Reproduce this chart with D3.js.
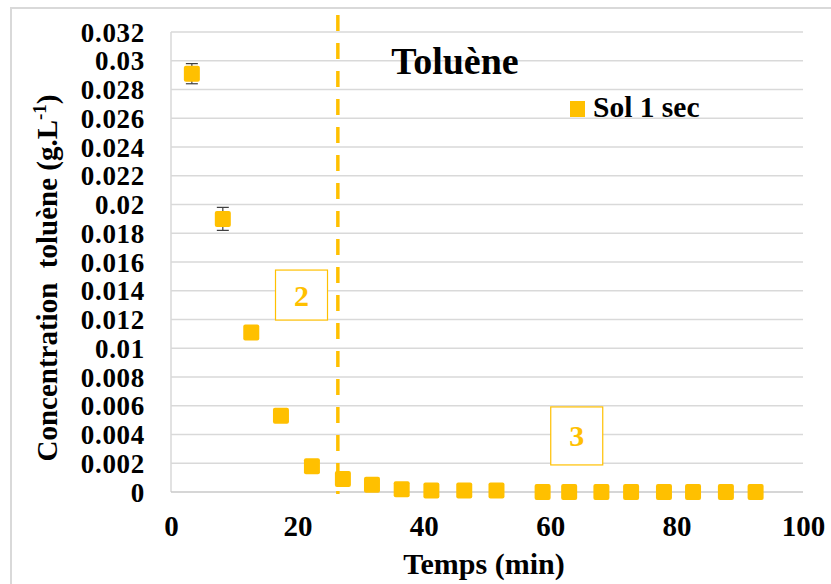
<!DOCTYPE html>
<html>
<head>
<meta charset="utf-8">
<script src="https://cdn.jsdelivr.net/npm/d3@7"></script>
<style>
    html, body { margin: 0; padding: 0; background: #fff; }
    svg { display: block; }
    svg text { font-family: "Liberation Serif", "Times New Roman", Times, "DejaVu Serif", serif; font-weight: bold; }
</style>
</head>
<body>
<svg id="chart"></svg>
<script>
const fullWidth = 831;
const fullHeight = 584;

const times = [3.3, 8.2, 12.7, 17.4, 22.3, 27.2, 31.8, 36.5, 41.2, 46.4, 51.5, 58.8, 63.0, 68.1, 72.8, 78.0, 82.6, 87.8, 92.5];
const concentrations = [0.0291, 0.0190, 0.0111, 0.0053, 0.0018, 0.0009, 0.0005, 0.0002, 0.0001, 0.0001, 0.0001, 0, 0, 0, 0, 0, 0, 0, 0];
const errors = [0.0007, 0.0008, 0, 0, 0, 0, 0, 0, 0, 0, 0, 0, 0, 0, 0, 0, 0, 0, 0];

const xTicks = [0, 20, 40, 60, 80, 100];
const yTicks = d3.range(0, 0.0321, 0.002);

const seriesName = 'Sol 1 sec';
const chartTitle = 'Toluène';
const phaseTime = 26.4;
const phaseLabels = [
    {label: '2', t: 20.65, c: 0.0137},
    {label: '3', t: 64.2, c: 0.0039},
];

const orange = '#FFC000';
const grid = '#d9d9d9';

const margin = {top: 32, right: 28, bottom: 92, left: 171};
const width = fullWidth - margin.left - margin.right;
const height = fullHeight - margin.top - margin.bottom;

const data = times.map((t, i) => ({t, c: concentrations[i], e: errors[i]}));

const x = d3.scaleLinear().domain([0, 100]).range([0, width]);
const y = d3.scaleLinear().domain([0, 0.032]).range([height, 0]);

const svg = d3.select('#chart')
    .attr('width', fullWidth)
    .attr('height', fullHeight);

// outer chart frame
svg.append('rect')
    .attr('x', 11)
    .attr('y', 8)
    .attr('width', fullWidth)
    .attr('height', fullHeight)
    .attr('fill', 'none')
    .attr('stroke', grid)
    .attr('stroke-width', 2);

const g = svg.append('g')
    .attr('transform', `translate(${margin.left}, ${margin.top})`);

g.selectAll('.grid')
    .data(yTicks.slice(1))
    .enter().append('line')
    .attr('class', 'grid')
    .attr('x1', 0)
    .attr('x2', width)
    .attr('y1', d => y(d))
    .attr('y2', d => y(d))
    .attr('stroke', grid)
    .attr('stroke-width', 1.5);

g.append('line')
    .attr('x1', 0).attr('x2', 0)
    .attr('y1', 0).attr('y2', height)
    .attr('stroke', grid)
    .attr('stroke-width', 1.5);

g.append('line')
    .attr('x1', 0).attr('x2', width)
    .attr('y1', y(0)).attr('y2', y(0))
    .attr('stroke', '#c8c8c8')
    .attr('stroke-width', 1.5);

const yAxis = d3.axisLeft(y)
    .tickValues(yTicks)
    .tickSize(0)
    .tickPadding(26)
    .tickFormat(d => d3.format('~g')(+d.toFixed(3)));

const gY = g.append('g').call(yAxis);
gY.attr('font-family', null);
gY.select('.domain').remove();
gY.selectAll('text')
    .attr('font-size', 27)
    .attr('letter-spacing', 0.7)
    .attr('fill', '#000')
    .attr('dy', '0.34em');

const xAxis = d3.axisBottom(x)
    .tickValues(xTicks)
    .tickSize(0)
    .tickPadding(23);

const gX = g.append('g')
    .attr('transform', `translate(0, ${height})`)
    .call(xAxis);
gX.attr('font-family', null);
gX.select('.domain').remove();
gX.selectAll('text')
    .attr('font-size', 29)
    .attr('fill', '#000');

// dashed phase separator
g.append('line')
    .attr('x1', x(phaseTime)).attr('x2', x(phaseTime))
    .attr('y1', -17).attr('y2', height + 2)
    .attr('stroke', orange)
    .attr('stroke-width', 3.5)
    .attr('stroke-dasharray', '16,12');

// phase boxes
const boxH = d => d.label === '3' ? 58 : 50;

const phase = g.selectAll('.phase')
    .data(phaseLabels)
    .enter().append('g')
    .attr('class', 'phase')
    .attr('transform', d => `translate(${x(d.t)}, ${y(d.c)})`);

phase.append('rect')
    .attr('x', -26)
    .attr('y', d => -boxH(d) / 2)
    .attr('width', 52)
    .attr('height', boxH)
    .attr('fill', '#fff')
    .attr('stroke', orange)
    .attr('stroke-width', 1.2);

phase.append('text')
    .attr('text-anchor', 'middle')
    .attr('dy', '0.35em')
    .attr('font-size', 30)
    .attr('fill', orange)
    .text(d => d.label);

// error bars
const err = g.selectAll('.err')
    .data(data.filter(d => d.e > 0))
    .enter().append('g')
    .attr('class', 'err')
    .attr('stroke', '#404040')
    .attr('stroke-width', 1.2);

err.append('line')
    .attr('x1', d => x(d.t)).attr('x2', d => x(d.t))
    .attr('y1', d => y(d.c + d.e)).attr('y2', d => y(d.c - d.e));

err.selectAll('.cap')
    .data(d => [d.c + d.e, d.c - d.e].map(v => ({t: d.t, v})))
    .enter().append('line')
    .attr('x1', d => x(d.t) - 6).attr('x2', d => x(d.t) + 6)
    .attr('y1', d => y(d.v)).attr('y2', d => y(d.v));

g.selectAll('.pt')
    .data(data)
    .enter().append('rect')
    .attr('class', 'pt')
    .attr('x', d => x(d.t) - 8)
    .attr('y', d => y(d.c) - 8)
    .attr('width', 16)
    .attr('height', 16)
    .attr('rx', 2)
    .attr('fill', orange);

// title and legend
svg.append('text')
    .attr('x', 455)
    .attr('y', 74)
    .attr('text-anchor', 'middle')
    .attr('font-size', 38)
    .attr('fill', '#000')
    .text(chartTitle);

svg.append('rect')
    .attr('x', 570)
    .attr('y', 101)
    .attr('width', 15)
    .attr('height', 16)
    .attr('fill', orange);

svg.append('text')
    .attr('x', 593)
    .attr('y', 117)
    .attr('font-size', 29.5)
    .attr('fill', '#000')
    .text(seriesName);

// axis titles
svg.append('text')
    .attr('x', margin.left + x(50) - 3)
    .attr('y', 574)
    .attr('text-anchor', 'middle')
    .attr('font-size', 30)
    .attr('fill', '#000')
    .text('Temps (min)');

const yTitle = svg.append('text')
    .attr('transform', 'translate(57, 278) rotate(-90)')
    .attr('text-anchor', 'middle')
    .attr('font-size', 29)
    .attr('fill', '#000');

yTitle.append('tspan').text('Concentration\u00a0\u00a0toluène (g.L');
yTitle.append('tspan')
    .attr('font-size', 19)
    .attr('dy', -11)
    .text('-1');
yTitle.append('tspan')
    .attr('dy', 11)
    .text(')');
</script>
</body>
</html>
